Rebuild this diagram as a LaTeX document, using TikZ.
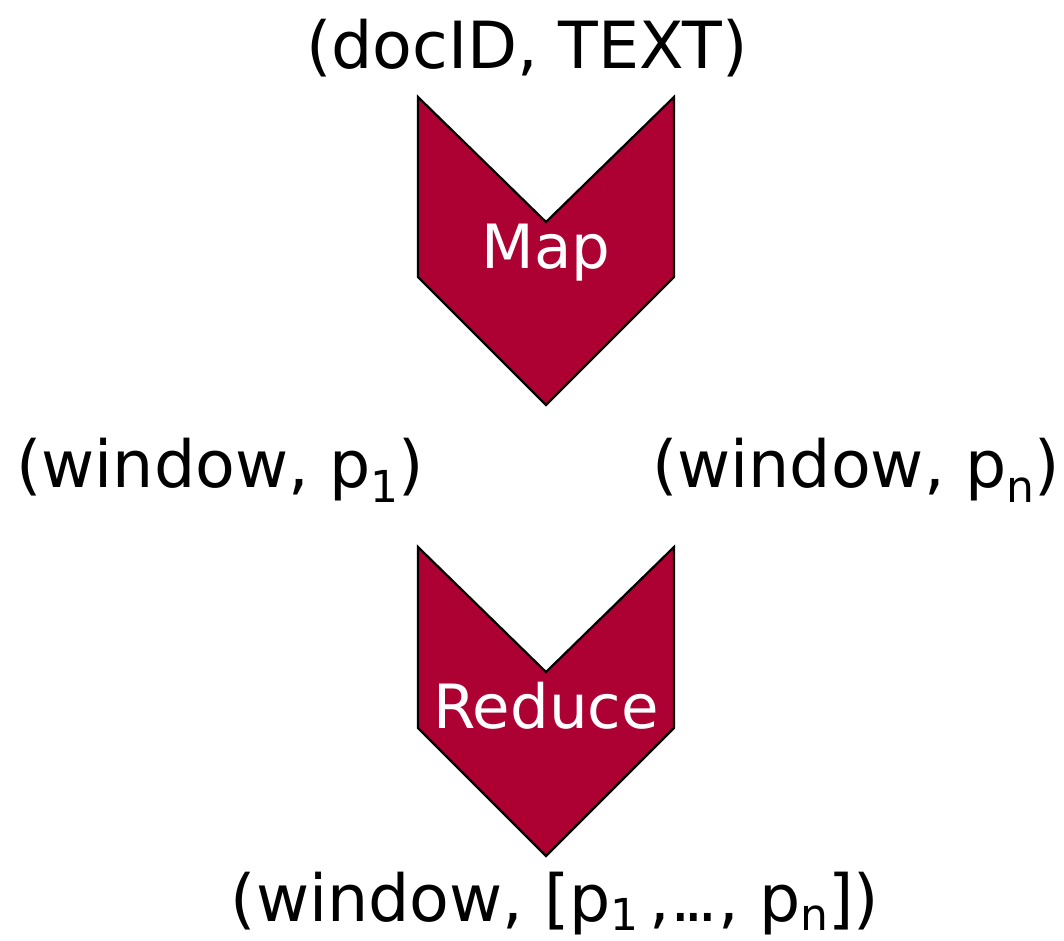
\documentclass[tikz,border=0pt]{standalone}
\usepackage{fontspec}
\setmainfont{DejaVu Sans}
\definecolor{chev}{HTML}{AD0033}
\newcommand{\sbs}[2][15pt]{\raisebox{-#1}{\fontsize{44}{44}\selectfont #2}}
\newcommand{\tightdots}{.\kern-7pt.\kern-7pt.}
\begin{document}
\begin{tikzpicture}[x=1pt,y=-1pt,
  chevron/.style={fill=chev,draw=black,line width=2.2pt,line join=miter},
  lbl/.style={inner sep=0pt,anchor=base,font=\fontsize{65}{65}\selectfont,text=black},
  clbl/.style={inner sep=0pt,font=\fontsize{61}{61}\selectfont,text=white}]
\useasboundingbox (0,0) rectangle (1064,940);
\draw[chevron] (418,97) -- (546,222) -- (674,97) -- (674,277) -- (546,405) -- (418,277) -- cycle;
\draw[chevron] (418,547) -- (546,672) -- (674,547) -- (674,728) -- (546,856) -- (418,728) -- cycle;
\node[lbl] (in) at (527,68) {(docID, TEXT)};
\node[clbl] (map) at (546,253) {Map};
\node[clbl] (red) at (546,706) {Reduce};
\node[lbl,anchor=base west] (w1) at (16,487) {(window, p\sbs{1})};
\node[lbl,anchor=base east] (wn) at (1060,487) {(window, p\sbs{n})};
\node[lbl] (out) at (555,921) {(window, [p\sbs[9pt]{1}\,,\tightdots, p\sbs[9pt]{n}])};
\end{tikzpicture}
\end{document}
